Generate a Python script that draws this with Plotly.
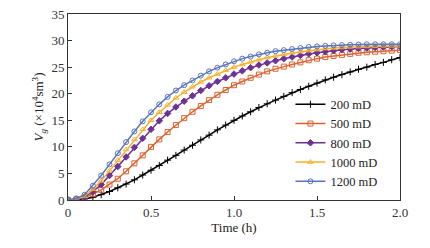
import plotly.graph_objects as go

t = [round(i * 0.05, 2) for i in range(41)]

v200 = [0, 0.05, 0.2, 0.5, 1.0, 1.6, 2.3, 3.0, 3.8, 4.7, 5.6, 6.5, 7.5, 8.4, 9.4, 10.3, 11.3, 12.2, 13.2, 14.1,
        15.0, 15.8, 16.6, 17.4, 18.1, 18.8, 19.5, 20.2, 20.8, 21.4, 22.0, 22.6, 23.1, 23.6, 24.1, 24.6, 25.0,
        25.5, 25.9, 26.4, 26.8]
v500 = [0, 0.1, 0.5, 1.1, 1.9, 2.9, 4.0, 5.4, 6.9, 8.4, 10.0, 11.4, 12.8, 14.1, 15.4, 16.6, 17.7, 18.8, 19.8,
        20.7, 21.6, 22.3, 23.0, 23.6, 24.2, 24.7, 25.1, 25.5, 25.9, 26.3, 26.6, 26.9, 27.1, 27.3, 27.5, 27.7,
        27.8, 27.9, 28.0, 28.1, 28.2]
v800 = [0, 0.15, 0.6, 1.6, 2.9, 4.6, 6.3, 8.1, 9.9, 11.6, 13.3, 14.9, 16.3, 17.5, 18.6, 19.6, 20.6, 21.5, 22.3,
        23.0, 23.7, 24.3, 24.9, 25.4, 25.8, 26.2, 26.6, 26.9, 27.2, 27.5, 27.7, 27.9, 28.1, 28.3, 28.4, 28.5,
        28.6, 28.7, 28.8, 28.85, 28.9]
v1000 = [0, 0.2, 0.7, 2.0, 3.6, 5.5, 7.5, 9.5, 11.4, 13.3, 15.0, 16.5, 17.9, 19.2, 20.3, 21.3, 22.2, 23.0, 23.7,
         24.4, 25.0, 25.5, 26.0, 26.4, 26.8, 27.1, 27.4, 27.7, 27.9, 28.1, 28.3, 28.5, 28.6, 28.7, 28.8, 28.85,
         28.9, 28.95, 29.0, 29.0, 29.0]
v1200 = [0, 0.3, 1.0, 2.7, 4.6, 6.7, 8.8, 10.9, 12.9, 14.8, 16.5, 18.0, 19.4, 20.6, 21.6, 22.5, 23.4, 24.2, 24.9,
         25.5, 26.1, 26.6, 27.0, 27.4, 27.7, 28.0, 28.2, 28.4, 28.6, 28.8, 28.9, 29.0, 29.1, 29.15, 29.2, 29.25,
         29.3, 29.3, 29.3, 29.3, 29.3]

names = ["200 mD", "500 mD", "800 mD", "1000 mD", "1200 mD"]
series = [v200, v500, v800, v1000, v1200]
colors = ["#000000", "#DC6330", "#6E3194", "#F7B12E", "#5A74BD"]
symbols = ["cross-thin-open", "square-open", "diamond", "triangle-up-open", "circle-open"]

x_ticks = [0, 0.5, 1.0, 1.5, 2.0]
x_ticktext = ["0", "0.5", "1.0", "1.5", "2.0"]
y_ticks = [0, 5, 10, 15, 20, 25, 30, 35]

fig = go.Figure()
for name, vals, col, sym in zip(names, series, colors, symbols):
    fig.add_trace(go.Scatter(
        x=t, y=vals, name=name, mode="lines+markers",
        line=dict(color=col, width=1.5),
        marker=dict(symbol=sym, size=5, color=col, line=dict(color=col, width=1)),
    ))

font = "Times New Roman, Liberation Serif, serif"
fig.update_layout(
    width=422, height=240,
    margin=dict(l=59.5, r=30, t=5.5, b=47.5, autoexpand=False),
    paper_bgcolor="white", plot_bgcolor="white",
    font=dict(family=font, size=13, color="#333333"),
    showlegend=True,
    legend=dict(x=0.67, y=0.593, xanchor="left", yanchor="top",
                bgcolor="rgba(0,0,0,0)", font=dict(family=font, size=12.5, color="#222222"),
                tracegroupgap=0),
    xaxis=dict(range=[0, 2.0], tickvals=x_ticks, ticktext=x_ticktext, automargin=False,
               showline=True, linecolor="#333333", linewidth=1, mirror=True,
               ticks="inside", ticklen=4, tickcolor="#333333", showgrid=False, zeroline=False,
               ticklabeloverflow="allow",
               title=dict(text="Time (h)", font=dict(family=font, size=13, color="#222222"), standoff=2)),
    yaxis=dict(range=[0, 35], tickvals=y_ticks, automargin=False,
               showline=True, linecolor="#333333", linewidth=1, mirror=True,
               ticks="inside", ticklen=4, tickcolor="#333333", showgrid=False, zeroline=False,
               ticklabeloverflow="allow",
               title=dict(text="<i>V</i><sub><i>g</i></sub> (×10<sup>4</sup>sm<sup>3</sup>)",
                          font=dict(family=font, size=13, color="#222222"), standoff=4)),
)

fig.write_html("out.html")
